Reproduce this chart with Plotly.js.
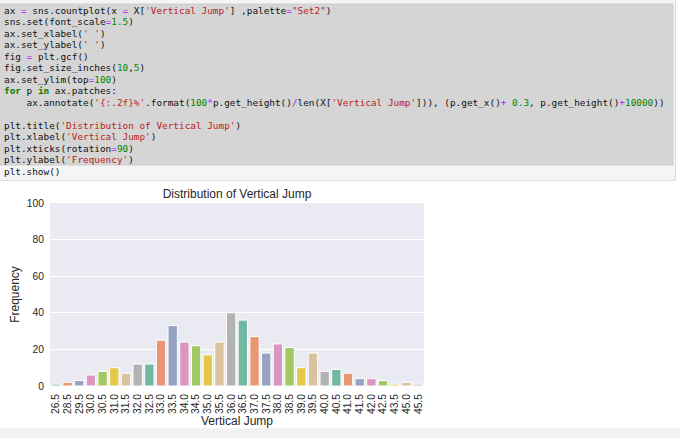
<!DOCTYPE html>
<html>
<head>
<meta charset="utf-8">
<script src="https://cdn.plot.ly/plotly-3.0.1.min.js"></script>
<style>html,body{margin:0;padding:0;background:#fff;}#chart{width:680px;height:438px;}</style>
</head>
<body>
<div id="chart"></div>
<script>
// ---- data ----
const categories = ['26.5','28.5','29.5','30.0','30.5','31.0','31.5','32.0','32.5','33.0','33.5','34.0','34.5','35.0','35.5','36.0','36.5','37.0','37.5','38.0','38.5','39.0','39.5','40.0','40.5','41.0','41.5','42.0','42.5','43.5','45.0','45.5'];
const counts = [1,2,3,6,8,10,7,12,12,25,33,24,22,17,24,40,36,27,18,23,21,10,18,8,9,7,4,4,3,1,2,1];
const yTicks = [0,20,40,60,80,100];
const chartTitle = 'Distribution of Vertical Jump';
const xTitle = 'Vertical Jump';
const yTitle = 'Frequency';
// seaborn Set2, desaturated 0.75
const palette = ['#72b7a1','#e99675','#95a3c3','#db96c0','#a2c864','#e5c849','#dbc29e','#b3b3b3'];

// ---- code cell text ----
const S = t => '<span style="color:#ba2121">' + t + '</span>';
const N = t => '<span style="color:#008800">' + t + '</span>';
const O = t => '<span style="color:#aa22ff">' + t + '</span>';
const K = t => '<span style="color:#008000"><b>' + t + '</b></span>';
const IND = '\u00a0\u00a0\u00a0\u00a0';
const codeLines = [
  'ax ' + O('=') + ' sns.countplot(x ' + O('=') + ' X[' + S("'Vertical Jump'") + '] ,palette' + O('=') + S('"Set2"') + ')',
  'sns.set(font_scale' + O('=') + N('1.5') + ')',
  'ax.set_xlabel(' + S("' '") + ')',
  'ax.set_ylabel(' + S("' '") + ')',
  'fig ' + O('=') + ' plt.gcf()',
  'fig.set_size_inches(' + N('10') + ',' + N('5') + ')',
  'ax.set_ylim(top' + O('=') + N('100') + ')',
  K('for') + ' p ' + K('in') + ' ax.patches:',
  IND + 'ax.annotate(' + S("'{:.2f}%'") + '.format(' + N('100') + O('*') + 'p.get_height()' + O('/') + 'len(X[' + S("'Vertical Jump'") + '])), (p.get_x()' + O('+') + ' ' + N('0.3') + ', p.get_height()' + O('+') + N('10000') + '))',
  '',
  'plt.title(' + S("'Distribution of Vertical Jump'") + ')',
  'plt.xlabel(' + S("'Vertical Jump'") + ')',
  'plt.xticks(rotation' + O('=') + N('90') + ')',
  'plt.ylabel(' + S("'Frequency'") + ')',
  'plt.show()'
];

// ---- geometry helpers (pixel -> paper) ----
const W = 680, H = 438;
const M = {l: 50, r: 256, t: 203, b: 52};
const pw = W - M.l - M.r, ph = H - M.t - M.b;
const PX = x => (x - M.l) / pw;
const PY = y => (H - M.b - y) / ph;

const barColors = categories.map((c, i) => palette[i % palette.length]);

const trace = {
  type: 'bar',
  x: categories,
  y: counts,
  marker: {color: barColors, line: {color: '#ffffff', width: 1}},
  hoverinfo: 'x+y'
};

const annotations = codeLines.map((t, i) => ({
  text: t,
  xref: 'paper', yref: 'paper',
  x: PX(2), y: PY(10 + i * 11.52),
  xanchor: 'left', yanchor: 'middle', align: 'left',
  showarrow: false,
  font: {family: 'DejaVu Sans Mono, monospace', size: 9.4, color: '#111111'}
})).filter(a => a.text !== '');

const shapes = [
  {type: 'rect', xref: 'paper', yref: 'paper', x0: PX(-1), x1: PX(675.5), y0: PY(180.5), y1: PY(-1),
   fillcolor: '#f5f5f5', line: {color: '#dddddd', width: 1}, layer: 'below'},
  {type: 'rect', xref: 'paper', yref: 'paper', x0: PX(-1), x1: PX(673), y0: PY(165), y1: PY(4),
   fillcolor: '#d5d5d5', line: {color: '#cdcdcd', width: 1}, layer: 'below'},
  {type: 'rect', xref: 'paper', yref: 'paper', x0: PX(-1), x1: PX(681), y0: PY(439), y1: PY(428),
   fillcolor: '#f2f2f2', line: {width: 0}, layer: 'below'}
];

const layout = {
  width: W, height: H,
  margin: M,
  paper_bgcolor: '#ffffff',
  plot_bgcolor: '#eaeaf2',
  showlegend: false,
  bargap: 0.2,
  font: {family: 'Liberation Sans, Arial, sans-serif', color: '#262626'},
  title: {text: chartTitle, x: 237 / W, xanchor: 'center', xref: 'container',
          y: 1 - 194 / H, yanchor: 'middle', yref: 'container',
          font: {size: 12, color: '#262626'}},
  xaxis: {
    type: 'category', range: [-0.5, categories.length - 0.5],
    tickmode: 'array', tickvals: categories, ticktext: categories,
    tickangle: -90, tickfont: {size: 10.3, color: '#262626'},
    showgrid: false, zeroline: false, showline: false, ticks: '',
    ticklabelstandoff: 5,
    title: {text: xTitle, font: {size: 12, color: '#262626'}, standoff: 3},
    automargin: false
  },
  yaxis: {
    range: [0, 100], tickvals: yTicks, ticktext: yTicks.map(String),
    tickfont: {size: 10.3, color: '#262626'},
    gridcolor: '#ffffff', gridwidth: 1, zeroline: false, showline: false, ticks: '',
    ticklabelstandoff: 5,
    title: {text: yTitle, font: {size: 12, color: '#262626'}, standoff: 4},
    automargin: false
  },
  shapes: shapes,
  annotations: annotations
};

Plotly.newPlot('chart', [trace], layout, {displayModeBar: false, staticPlot: true});
</script>
</body>
</html>
